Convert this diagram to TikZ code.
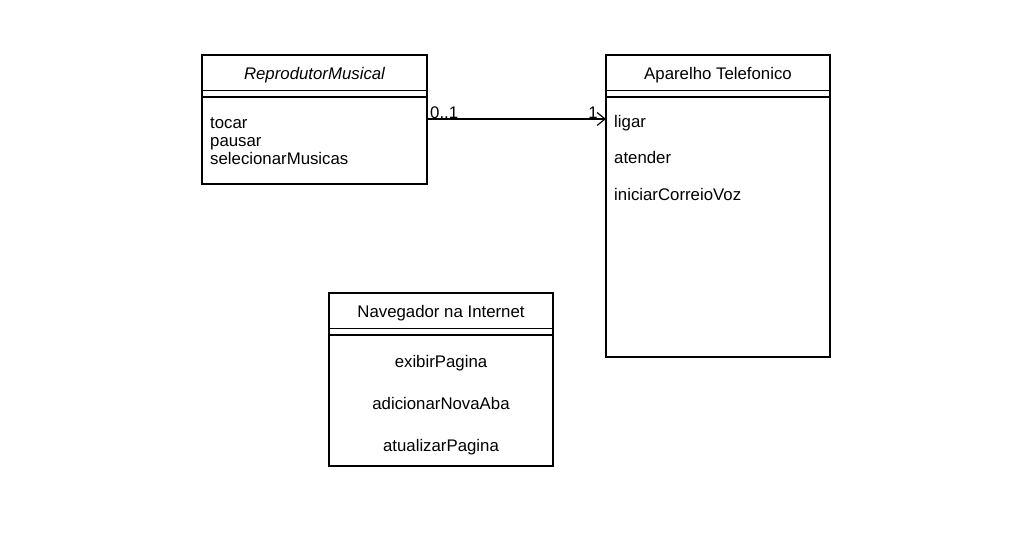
\documentclass[tikz,border=0pt]{standalone}
\usepackage{fontspec}
\setmainfont{Liberation Sans}
\usetikzlibrary{arrows.meta}
\begin{document}
\begin{tikzpicture}[x=1pt,y=-1pt,
  box/.style={draw=black,line width=1.2pt,fill=white},
  sep/.style={draw=black,line width=1.2pt},
  txt/.style={inner sep=0pt,anchor=base,font=\fontsize{16.8}{19}\selectfont},
  ltxt/.style={txt,anchor=base west}]
\useasboundingbox (0,0) rectangle (1013,552);
% ReprodutorMusical
\draw[box] (202,55) rectangle (427,184);
\draw[sep] (202,90.5) -- (427,90.5);
\draw[sep] (202,97) -- (427,97);
\node[txt] (rmT) at (314.5,79) {\itshape ReprodutorMusical};
\node[ltxt] (rm1) at (210,128) {tocar};
\node[ltxt] (rm2) at (210,146.5) {pausar};
\node[ltxt] (rm3) at (210,164.5) {selecionarMusicas};
\coordinate (rmR) at (427,119);
% Aparelho Telefonico
\draw[box] (606,55) rectangle (830,357);
\draw[sep] (606,90.5) -- (830,90.5);
\draw[sep] (606,97) -- (830,97);
\node[txt] (atT) at (718,79) {Aparelho Telefonico};
\node[ltxt] (at1) at (614,127.5) {ligar};
\node[ltxt] (at2) at (614,163.5) {atender};
\node[ltxt] (at3) at (614,200) {iniciarCorreioVoz};
\coordinate (atL) at (606,119);
% Navegador
\draw[box] (329,293) rectangle (553,466);
\draw[sep] (329,328.5) -- (553,328.5);
\draw[sep] (329,335) -- (553,335);
\node[txt] (nvT) at (441,317.5) {Navegador na Internet};
\node[txt] (nv1) at (441,367) {exibirPagina};
\node[txt] (nv2) at (441,409) {adicionarNovaAba};
\node[txt] (nv3) at (441,451) {atualizarPagina};
% association
\draw[line width=1.2pt,-{Straight Barb[length=8pt,width=13pt,line width=1.2pt]}] (rmR) -- (atL);
\node[txt,anchor=base west] (m1) at (430,118.5) {0..1};
\node[txt,anchor=base east] (m2) at (598,118.5) {1};
\end{tikzpicture}
\end{document}
